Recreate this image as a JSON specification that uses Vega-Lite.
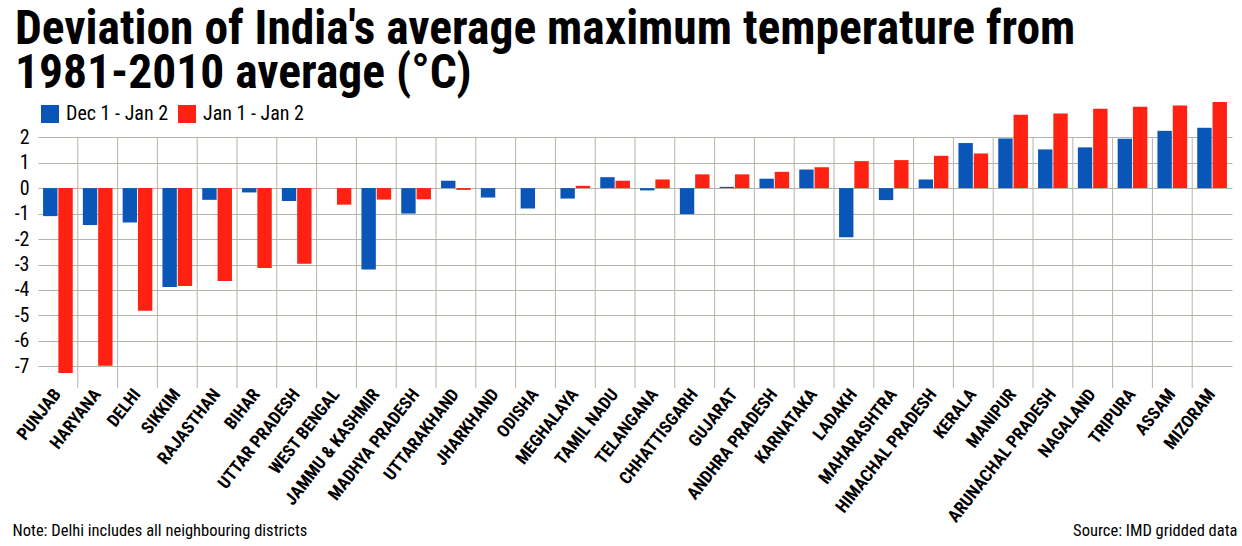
{
  "$schema": "https://vega.github.io/schema/vega-lite/v6.json",
  "autosize": {"type": "none"},
  "width": 1194,
  "height": 289,
  "padding": {"left": 38, "top": 99, "right": 10, "bottom": 158},
  "background": "white",
  "config": {
    "view": {"stroke": null},
    "font": "Roboto Condensed, Liberation Sans Narrow, DejaVu Sans Condensed, sans-serif",
    "axisY": {"labelOverlap": false, "labelFontSize": 20, "labelColor": "black", "labelPadding": 9, "ticks": false, "domain": false, "tickCount": 12}
  },
  "title": {
    "text": ["Deviation of India's average maximum temperature from", "1981-2010 average (°C)"],
    "anchor": "start",
    "frame": "group",
    "fontSize": 47.5,
    "fontWeight": "bold",
    "font": "Roboto Condensed, Liberation Sans Narrow, DejaVu Sans Condensed, sans-serif",
    "color": "black",
    "lineHeight": 44,
    "baseline": "alphabetic",
    "dx": -23,
    "dy": 46,
    "offset": 10
  },
  "data": {
    "values": [
      {"state": "PUNJAB", "Dec 1 - Jan 2": -1.1, "Jan 1 - Jan 2": -7.26},
      {"state": "HARYANA", "Dec 1 - Jan 2": -1.45, "Jan 1 - Jan 2": -6.98},
      {"state": "DELHI", "Dec 1 - Jan 2": -1.35, "Jan 1 - Jan 2": -4.82},
      {"state": "SIKKIM", "Dec 1 - Jan 2": -3.88, "Jan 1 - Jan 2": -3.84},
      {"state": "RAJASTHAN", "Dec 1 - Jan 2": -0.46, "Jan 1 - Jan 2": -3.65},
      {"state": "BIHAR", "Dec 1 - Jan 2": -0.17, "Jan 1 - Jan 2": -3.14},
      {"state": "UTTAR PRADESH", "Dec 1 - Jan 2": -0.51, "Jan 1 - Jan 2": -2.97},
      {"state": "WEST BENGAL", "Dec 1 - Jan 2": 0.0, "Jan 1 - Jan 2": -0.65},
      {"state": "JAMMU & KASHMIR", "Dec 1 - Jan 2": -3.2, "Jan 1 - Jan 2": -0.45},
      {"state": "MADHYA PRADESH", "Dec 1 - Jan 2": -1.0, "Jan 1 - Jan 2": -0.44},
      {"state": "UTTARAKHAND", "Dec 1 - Jan 2": 0.29, "Jan 1 - Jan 2": -0.07},
      {"state": "JHARKHAND", "Dec 1 - Jan 2": -0.37, "Jan 1 - Jan 2": 0.0},
      {"state": "ODISHA", "Dec 1 - Jan 2": -0.8, "Jan 1 - Jan 2": 0.0},
      {"state": "MEGHALAYA", "Dec 1 - Jan 2": -0.41, "Jan 1 - Jan 2": 0.09},
      {"state": "TAMIL NADU", "Dec 1 - Jan 2": 0.43, "Jan 1 - Jan 2": 0.29},
      {"state": "TELANGANA", "Dec 1 - Jan 2": -0.09, "Jan 1 - Jan 2": 0.34},
      {"state": "CHHATTISGARH", "Dec 1 - Jan 2": -1.02, "Jan 1 - Jan 2": 0.54},
      {"state": "GUJARAT", "Dec 1 - Jan 2": 0.05, "Jan 1 - Jan 2": 0.54},
      {"state": "ANDHRA PRADESH", "Dec 1 - Jan 2": 0.37, "Jan 1 - Jan 2": 0.64},
      {"state": "KARNATAKA", "Dec 1 - Jan 2": 0.73, "Jan 1 - Jan 2": 0.82},
      {"state": "LADAKH", "Dec 1 - Jan 2": -1.93, "Jan 1 - Jan 2": 1.06},
      {"state": "MAHARASHTRA", "Dec 1 - Jan 2": -0.47, "Jan 1 - Jan 2": 1.1},
      {"state": "HIMACHAL PRADESH", "Dec 1 - Jan 2": 0.34, "Jan 1 - Jan 2": 1.27},
      {"state": "KERALA", "Dec 1 - Jan 2": 1.77, "Jan 1 - Jan 2": 1.36},
      {"state": "MANIPUR", "Dec 1 - Jan 2": 1.95, "Jan 1 - Jan 2": 2.88},
      {"state": "ARUNACHAL PRADESH", "Dec 1 - Jan 2": 1.52, "Jan 1 - Jan 2": 2.93},
      {"state": "NAGALAND", "Dec 1 - Jan 2": 1.6, "Jan 1 - Jan 2": 3.12},
      {"state": "TRIPURA", "Dec 1 - Jan 2": 1.94, "Jan 1 - Jan 2": 3.2},
      {"state": "ASSAM", "Dec 1 - Jan 2": 2.25, "Jan 1 - Jan 2": 3.24},
      {"state": "MIZORAM", "Dec 1 - Jan 2": 2.37, "Jan 1 - Jan 2": 3.38}
    ]
  },
  "encoding": {
    "x": {
      "field": "state",
      "type": "nominal",
      "sort": null,
      "scale": {
        "domain": ["PUNJAB", "HARYANA", "DELHI", "SIKKIM", "RAJASTHAN", "BIHAR", "UTTAR PRADESH", "WEST BENGAL", "JAMMU & KASHMIR", "MADHYA PRADESH", "UTTARAKHAND", "JHARKHAND", "ODISHA", "MEGHALAYA", "TAMIL NADU", "TELANGANA", "CHHATTISGARH", "GUJARAT", "ANDHRA PRADESH", "KARNATAKA", "LADAKH", "MAHARASHTRA", "HIMACHAL PRADESH", "KERALA", "MANIPUR", "ARUNACHAL PRADESH", "NAGALAND", "TRIPURA", "ASSAM", "MIZORAM"],
        "paddingInner": 0,
        "paddingOuter": 0
      },
      "axis": {
        "title": "Note: Delhi includes all neighbouring districts",
        "titleAnchor": "start",
        "titleAlign": "left",
        "titleX": -26,
        "titleY": 147,
        "titleBaseline": "alphabetic",
        "titleFontSize": 16.5,
        "titleFontWeight": "normal",
        "titleColor": "black",
        "labelAngle": -52,
        "labelAlign": "right",
        "labelBaseline": "middle",
        "labelFontSize": 17.5,
        "labelFontWeight": "bold",
        "labelColor": "black",
        "labelPadding": 3,
        "labelOverlap": false,
        "ticks": false,
        "domain": false,
        "grid": false
      }
    }
  },
  "layer": [
    {
      "mark": {"type": "rule", "color": "#b4b4aa", "strokeWidth": 1},
      "transform": [{"filter": "datum.state !== 'PUNJAB'"}],
      "encoding": {
        "x": {"field": "state", "type": "nominal", "sort": null, "bandPosition": 0},
        "y": {
          "datum": 2,
          "type": "quantitative",
          "scale": {"domain": [-7.85, 3.5], "nice": false, "zero": false},
          "axis": {
            "values": [-7, -6, -5, -4, -3, -2, -1, 0, 1, 2],
            "tickCount": 12,
            "labelExpr": "'' + datum.value",
            "labelFontSize": 20,
            "labelColor": "black",
            "labelPadding": 9,
            "labelOverlap": false,
            "ticks": false,
            "domain": false,
            "grid": true,
            "gridColor": "#b4b4aa",
            "gridWidth": 1,
            "title": "Source: IMD gridded data",
            "titleAngle": 0,
            "titleAlign": "right",
            "titleBaseline": "alphabetic",
            "titleX": 1199,
            "titleY": 436,
            "titleFontSize": 16.5,
            "titleFontWeight": "normal",
            "titleColor": "black"
          }
        },
        "y2": {"datum": -7.85}
      }
    },
    {
      "mark": {"type": "bar"},
      "transform": [{"fold": ["Dec 1 - Jan 2", "Jan 1 - Jan 2"], "as": ["period", "value"]}],
      "encoding": {
        "xOffset": {"field": "period", "type": "nominal", "scale": {"paddingInner": 0.06, "paddingOuter": 0.33}},
        "y": {
          "field": "value",
          "type": "quantitative",
          "axis": {
            "values": [-7, -6, -5, -4, -3, -2, -1, 0, 1, 2],
            "tickCount": 12,
            "labelExpr": "'' + datum.value",
            "labelFontSize": 20,
            "labelColor": "black",
            "labelPadding": 9,
            "labelOverlap": false,
            "ticks": false,
            "domain": false,
            "grid": true,
            "gridColor": "#b4b4aa",
            "gridWidth": 1,
            "title": "Source: IMD gridded data",
            "titleAngle": 0,
            "titleAlign": "right",
            "titleBaseline": "alphabetic",
            "titleX": 1199,
            "titleY": 436,
            "titleFontSize": 16.5,
            "titleFontWeight": "normal",
            "titleColor": "black"
          }
        },
        "color": {
          "field": "period",
          "type": "nominal",
          "scale": {"domain": ["Dec 1 - Jan 2", "Jan 1 - Jan 2"], "range": ["#0a56b8", "#ff2111"]},
          "legend": {
            "title": null,
            "orient": "none",
            "legendX": 2,
            "legendY": 5,
            "direction": "horizontal",
            "symbolType": "square",
            "symbolSize": 324,
            "symbolStrokeWidth": 0,
            "labelFontSize": 20,
            "labelColor": "black",
            "labelOffset": 6,
            "columnPadding": 8
          }
        }
      }
    },
    {
      "mark": {"type": "rule", "color": "black", "strokeWidth": 1.5},
      "encoding": {"y": {"datum": 0, "type": "quantitative"}}
    }
  ]
}
